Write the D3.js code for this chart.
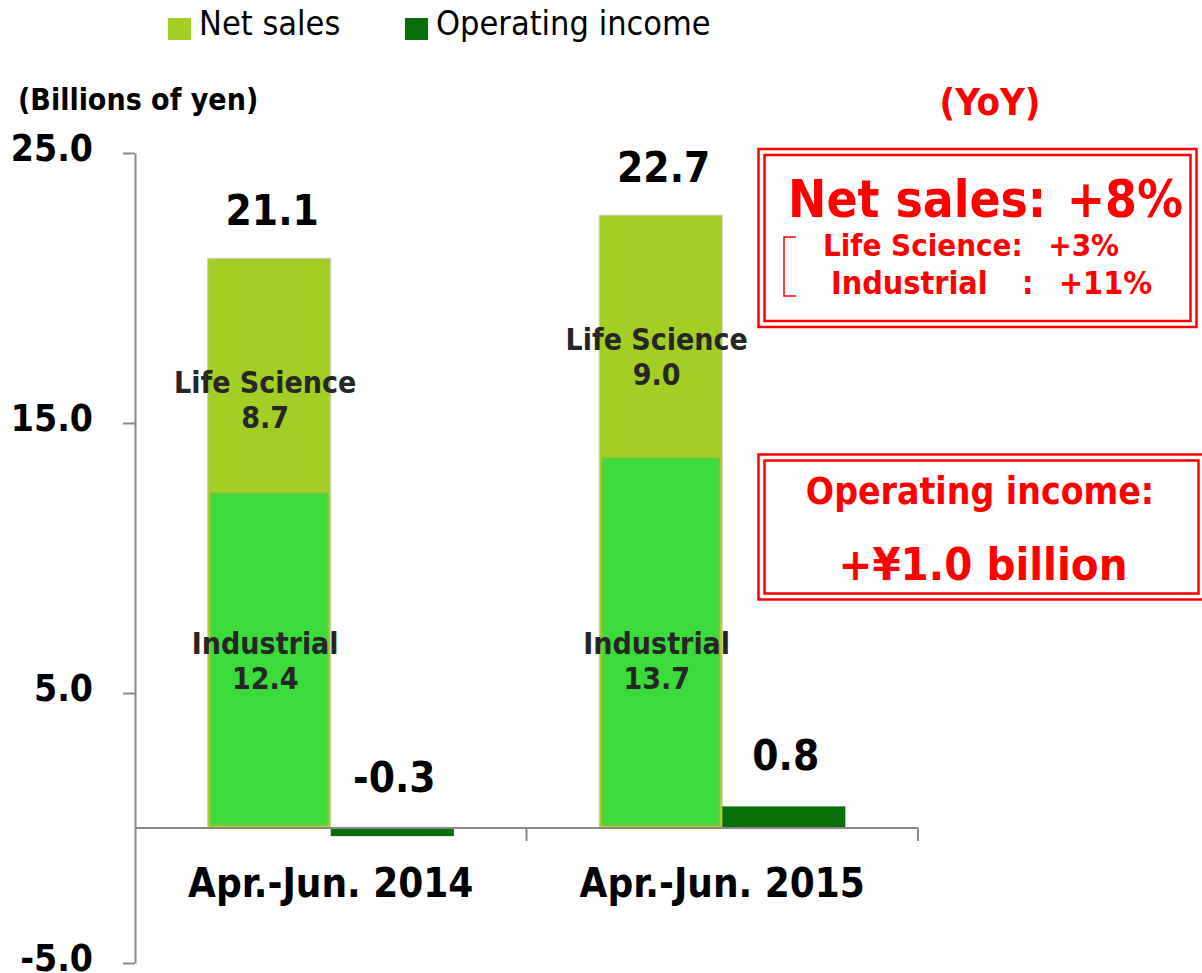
<!DOCTYPE html>
<head>
<meta charset="utf-8">
<title>Net sales and operating income</title>
<script type="text/javascript" src="https://cdn.jsdelivr.net/npm/d3@7"></script>
<style>
body { margin: 0; background: #fff; }
svg text {
	font-family: "DejaVu Sans Condensed", "DejaVu Sans", sans-serif;
	font-stretch: condensed;
	white-space: pre;
	}
.axis path,
.axis line {
	fill: none;
	stroke: #898989;
	stroke-width: 2;
	}
.axis text {
	font-size: 37px;
	font-weight: bold;
	fill: #000;
	}
</style>
</head>
<body>
<script>
// values
var categories = ["Apr.-Jun. 2014", "Apr.-Jun. 2015"];
var industrial = [12.4, 13.7];
var lifeScience = [8.7, 9.0];
var netSales = [21.1, 22.7];
var operatingIncome = [-0.3, 0.8];
var yTicks = [-5, 5, 15, 25];
var seriesNames = ["Net sales", "Operating income"];

var width = 1202, height = 973;
var red = "#ff0000";
var colSales = "#a3cf25", colIndustrial = "#3bdb3b", colOI = "#086e08";

var svg = d3.select("body").append("svg")
	.attr("width", width)
	.attr("height", height);

var y = d3.scaleLinear().domain([-5, 25]).range([963, 153]);
var x0 = d3.scaleBand().domain(categories).range([135, 918]);
var x1 = d3.scaleBand().domain(["sales", "oi"])
	.range([0, x0.bandwidth()])
	.paddingInner(0).paddingOuter(0.59);

// y axis
var yAxis = svg.append("g")
	.attr("class", "axis")
	.attr("transform", "translate(135,0)")
	.call(d3.axisLeft(y).tickValues(yTicks).tickSize(12).tickSizeOuter(0).tickPadding(30)
		.tickFormat(function(d) { return d.toFixed(1); }));
yAxis.selectAll(".tick text").attr("dy", "0.2em");

svg.append("text")
	.attr("x", 18).attr("y", 110)
	.style("font-size", "30px").style("font-weight", "bold")
	.text("(Billions of yen)");

// stacked net sales bars: full outer bar, industrial drawn inside
var rows = categories.map(function(c, i) {
	return { cat: c, industrial: industrial[i], lifeScience: lifeScience[i], total: netSales[i], oi: operatingIncome[i] };
});

var g = svg.selectAll("g.cat").data(rows).enter().append("g")
	.attr("class", "cat")
	.attr("transform", function(d) { return "translate(" + x0(d.cat) + ",0)"; });

g.append("rect")
	.attr("x", x1("sales"))
	.attr("y", function(d) { return y(d.total); })
	.attr("width", x1.bandwidth())
	.attr("height", function(d) { return y(0) - y(d.total); })
	.attr("fill", colSales)
	.attr("stroke", "#cfcfcf")
	.attr("stroke-width", 1);

g.append("rect")
	.attr("x", x1("sales") + 3)
	.attr("y", function(d) { return y(d.industrial); })
	.attr("width", x1.bandwidth() - 6)
	.attr("height", function(d) { return y(0) - y(d.industrial) - 3; })
	.attr("fill", colIndustrial)
	.attr("stroke", "#7cc23a")
	.attr("stroke-width", 1.5);

g.append("rect")
	.attr("x", x1("oi"))
	.attr("y", function(d) { return y(Math.max(0, d.oi)); })
	.attr("width", x1.bandwidth())
	.attr("height", function(d) { return Math.abs(y(d.oi) - y(0)); })
	.attr("fill", colOI);

// segment labels
var cx = x1("sales") + x1.bandwidth() / 2;
function segLabel(yFn, textFn) {
	g.append("text")
		.attr("x", cx - 4)
		.attr("y", yFn)
		.attr("text-anchor", "middle")
		.style("font-size", "30px").style("font-weight", "bold")
		.attr("fill", "#262626")
		.text(textFn);
}
segLabel(function(d) { return y(d.total) + 135; }, "Life Science");
segLabel(function(d) { return y(d.total) + 170; }, function(d) { return d.lifeScience.toFixed(1); });
segLabel(function(d) { return y(0) - 174; }, "Industrial");
segLabel(function(d) { return y(0) - 139; }, function(d) { return d.industrial.toFixed(1); });

// totals and operating income values
g.append("text")
	.attr("x", cx + 3)
	.attr("y", function(d) { return y(d.total) - 33; })
	.attr("text-anchor", "middle")
	.style("font-size", "42px").style("font-weight", "bold")
	.text(function(d) { return d.total.toFixed(1); });

g.append("text")
	.attr("x", x1("oi") + x1.bandwidth() / 2 + 2)
	.attr("y", function(d) { return y(Math.max(0, d.oi)) - 36; })
	.attr("text-anchor", "middle")
	.style("font-size", "42px").style("font-weight", "bold")
	.text(function(d) { return d.oi.toFixed(1); });

// zero line with category ticks
var xr = x0.range();
svg.append("line")
	.attr("x1", xr[0]).attr("x2", xr[1])
	.attr("y1", y(0)).attr("y2", y(0))
	.attr("stroke", "#898989").attr("stroke-width", 2);
svg.selectAll("line.xtick").data(categories).enter().append("line")
	.attr("class", "xtick")
	.attr("x1", function(d) { return x0(d) + x0.bandwidth(); })
	.attr("x2", function(d) { return x0(d) + x0.bandwidth(); })
	.attr("y1", y(0)).attr("y2", y(0) + 13)
	.attr("stroke", "#898989").attr("stroke-width", 2);

svg.selectAll("text.cat").data(categories).enter().append("text")
	.attr("class", "cat")
	.attr("x", function(d) { return x0(d) + x0.bandwidth() / 2; })
	.attr("y", 897)
	.attr("text-anchor", "middle")
	.style("font-size", "40px").style("font-weight", "bold")
	.text(function(d) { return d; });

// legend
var legendX = [168, 405];
var legendCol = [colSales, colOI];
var lg = svg.selectAll("g.legend").data(seriesNames).enter().append("g")
	.attr("class", "legend")
	.attr("transform", function(d, i) { return "translate(" + legendX[i] + ",0)"; });
lg.append("rect").attr("x", 0).attr("y", 18).attr("width", 23).attr("height", 22)
	.attr("fill", function(d, i) { return legendCol[i]; });
lg.append("text").attr("x", 31).attr("y", 35)
	.style("font-size", "34px")
	.attr("fill", "#000")
	.text(function(d) { return d; });

// YoY call-outs
svg.append("text").attr("x", 990).attr("y", 115).attr("text-anchor", "middle")
	.attr("fill", red).style("font-size", "38px").style("font-weight", "bold")
	.text("(YoY)");

function doubleBox(x, yy, w, h) {
	svg.append("rect").attr("x", x).attr("y", yy).attr("width", w).attr("height", h)
		.attr("fill", "none").attr("stroke", red).attr("stroke-width", 2.5);
	svg.append("rect").attr("x", x + 6).attr("y", yy + 6).attr("width", w - 12).attr("height", h - 12)
		.attr("fill", "none").attr("stroke", red).attr("stroke-width", 2.5);
}
doubleBox(758.5, 149, 438, 178);
doubleBox(758.5, 454.5, 446, 145);

function redText(x, yy, size, s, anchor) {
	svg.append("text").attr("x", x).attr("y", yy)
		.attr("text-anchor", anchor || "start")
		.attr("fill", red).style("font-size", size + "px").style("font-weight", "bold")
		.text(s);
}
redText(788, 217, 51, "Net sales:");
redText(1183, 217, 51, "+8%", "end");
redText(823, 256, 31, "Life Science:");
redText(1119, 256, 31, "+3%", "end");
redText(831, 294, 32, "Industrial");
redText(1022, 294, 32, ":");
redText(1152, 294, 32, "+11%", "end");
svg.append("path")
	.attr("d", "M796,237H784V296H796")
	.attr("fill", "none").attr("stroke", red).attr("stroke-width", 1.5);

svg.append("text").attr("x", 980).attr("y", 504).attr("text-anchor", "middle")
	.attr("fill", red).style("font-size", "37px").style("font-weight", "bold")
	.text("Operating income:");
svg.append("text").attr("x", 983).attr("y", 580).attr("text-anchor", "middle")
	.attr("fill", red).style("font-size", "45px").style("font-weight", "bold")
	.text("+\u00a51.0 billion");
</script>
</body>
